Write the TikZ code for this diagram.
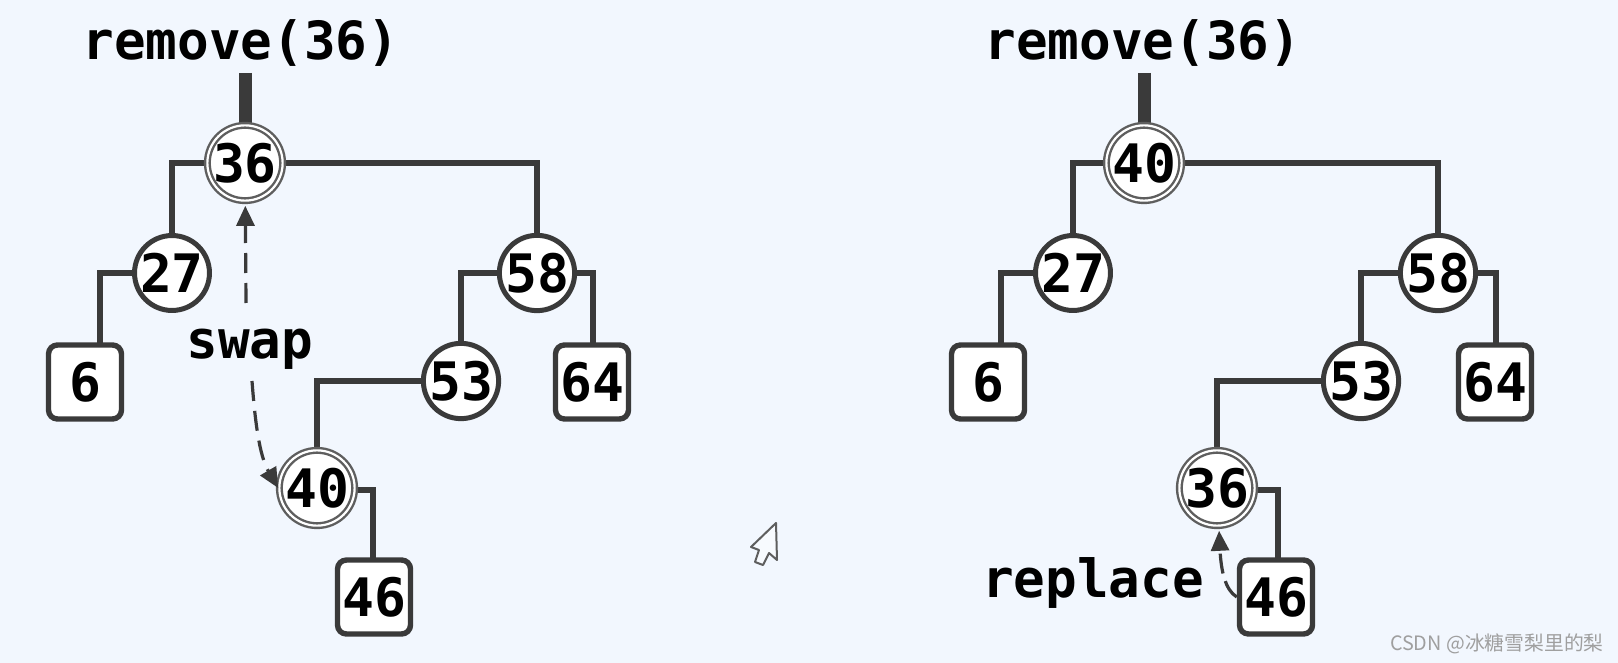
\documentclass[tikz,border=0pt]{standalone}
\usepackage{fontspec}
\setmonofont{DejaVu Sans Mono}
\newfontfamily\cjk{Noto Sans CJK SC}
\usetikzlibrary{arrows.meta}
\definecolor{bgc}{HTML}{F2F7FE}
\definecolor{ink}{HTML}{3A3A3A}
\definecolor{ringc}{HTML}{5E5E5E}
\tikzset{
 x=0.5pt,y=-0.5pt,
 key/.style={font=\ttfamily\bfseries\fontsize{26.5}{26.5}\selectfont,text=black,inner sep=0pt},
 round/.style={key,circle,draw=ink,fill=white,line width=2.5pt,minimum size=35.5pt},
 ring/.style={key,circle,draw=ringc,fill=white,line width=1.2pt,double=white,double distance=1.1pt,minimum size=37pt},
 leaf/.style={key,rectangle,rounded corners=4.5pt,draw=ink,fill=white,line width=2.7pt,minimum width=36.5pt,minimum height=37pt},
 link/.style={draw=ink,line width=2.7pt},
 stub/.style={draw=ink,line width=6.5pt},
 dashedarrow/.style={draw=ink,line width=1.6pt,dash pattern=on 10pt off 5pt,-{Triangle[length=10pt,width=9pt]}},
 lab/.style={font=\ttfamily\bfseries\fontsize{26.3}{26.3}\selectfont,text=black,inner sep=0pt},
}
\begin{document}
\begin{tikzpicture}
\useasboundingbox (0,0) rectangle (1618,663);
\fill[bgc] (0,0) rectangle (1618,663);

% left tree
\coordinate (atop) at (245,73);
\coordinate (asix) at (100,345);
\coordinate (aswapa) at (246,303);
\coordinate (aswapb) at (252,381);
\node[lab] (aremove) at (241,43) {remove(36)};
\draw[stub] (atop) -- (245,126);
\draw[link] (245,163) -| (172,240);
\draw[link] (245,163) -| (537,240);
\draw[link] (172,273) -| (asix);
\draw[link] (537,273) -| (461,345);
\draw[link] (537,273) -| (593,345);
\draw[link] (461,381) -| (317,450);
\draw[link] (317,490) -| (373,565);
\node[ring] (a36) at (245,163) {36};
\node[round] (a27) at (172,273) {27};
\node[round] (a58) at (537,273) {58};
\node[leaf] (a6) at (85,382) {6};
\node[round] (a53) at (461,381) {53};
\node[leaf] (a64) at (592,382) {64};
\node[ring] (a40) at (317,488) {40};
\node[leaf] (a46) at (374,597) {46};
\node[lab] (aswap) at (250,349) {swap};
\draw[dashedarrow,shorten >=2pt] (aswapa) -- (a36);
\draw[dashedarrow] (aswapb) .. controls (255,420) and (259,455) .. (a40.west);

% right tree
\coordinate (btop) at (1144,73);
\coordinate (bsix) at (1001,345);
\node[lab] (bremove) at (1143,43) {remove(36)};
\draw[stub] (btop) -- (1144,126);
\draw[link] (1144,163) -| (1073,240);
\draw[link] (1144,163) -| (1438,240);
\draw[link] (1073,273) -| (bsix);
\draw[link] (1438,273) -| (1361,345);
\draw[link] (1438,273) -| (1496,345);
\draw[link] (1361,381) -| (1217,450);
\draw[link] (1217,490) -| (1278,565);
\node[ring] (b40) at (1144,163) {40};
\node[round] (b27) at (1073,273) {27};
\node[round] (b58) at (1438,273) {58};
\node[leaf] (b6) at (988,382) {6};
\node[round] (b53) at (1361,381) {53};
\node[leaf] (b64) at (1495,382) {64};
\node[ring] (b36) at (1217,488) {36};
\node[leaf] (b46) at (1276,597) {46};
\node[lab] (breplace) at (1093,583) {replace};
\draw[draw=ink,line width=1.6pt,dash pattern=on 10pt off 4pt,-{Triangle[length=10pt,width=9pt]},shorten >=2pt] (b46.west) .. controls (1225,590) and (1221,570) .. (b36);

% pointer
\draw[draw=ringc,fill=bgc!60!white,line width=1pt,line join=round]
 (776,523) -- (777,560) -- (769,553) -- (763,565) -- (755,562) -- (759,550) -- (751,547) -- cycle;

% watermark
\node[anchor=east,inner sep=0pt,text=gray!75,font=\fontsize{9.9}{9.9}\selectfont\cjk] (wm) at (1604,644) {CSDN @冰糖雪梨里的梨};
\end{tikzpicture}
\end{document}
